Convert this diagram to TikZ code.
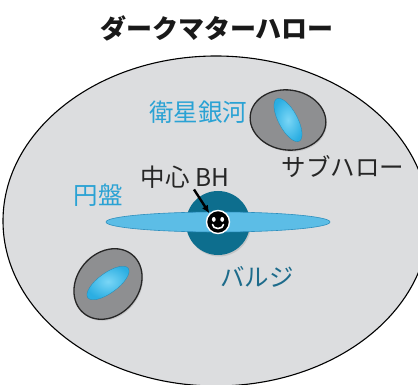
\documentclass[tikz,border=0pt]{standalone}
\usepackage{fontspec}
\newfontfamily\jp{Noto Sans CJK JP}
\usetikzlibrary{shapes.geometric,shadows,arrows.meta}
\definecolor{halogray}{HTML}{DCDDDF}
\definecolor{subgray}{HTML}{8E8F91}
\definecolor{galblue}{HTML}{2BAEE2}
\definecolor{galhi}{HTML}{7AD6F6}
\definecolor{diskblue}{HTML}{5CBDE6}
\definecolor{diskedge}{HTML}{2E8FBE}
\definecolor{bulgeteal}{HTML}{0D6E8E}
\definecolor{labcyan}{HTML}{2AA2D4}
\definecolor{labteal}{HTML}{1D6B8B}
\tikzset{
  halo/.style={ellipse, draw=black, line width=1.1pt, fill=halogray, inner sep=0pt},
  subhalo/.style={ellipse, draw=black!85, line width=1.3pt, fill=subgray, inner sep=0pt,
    drop shadow={opacity=0.25, shadow xshift=1pt, shadow yshift=-1.5pt}},
  satgal/.style={ellipse, inner sep=0pt, draw=galblue!80!black, line width=0.3pt,
    inner color=galhi, outer color=galblue},
  bulge/.style={circle, fill=bulgeteal, inner sep=0pt, minimum size=64pt,
    drop shadow={opacity=0.25, shadow xshift=1pt, shadow yshift=-1.5pt}},
  disk/.style={ellipse, fill=diskblue, draw=diskedge, line width=0.6pt, inner sep=0pt,
    minimum width=224pt, minimum height=20pt},
  bh/.style={circle, fill=black, draw=white, line width=1.4pt, inner sep=0pt, minimum size=23pt},
  lab/.style={font=\jp\fontsize{24.5}{24.5}\selectfont, inner sep=0pt},
  pointer/.style={-{Latex[length=8pt,width=7pt]}, line width=2.4pt, black}
}
\begin{document}
\begin{tikzpicture}[x=1pt,y=-1pt]
\useasboundingbox (0,0) rectangle (418,385);
\fill[white] (0,0) rectangle (418,385);

% title
\node[lab, font=\jp\bfseries\fontsize{26}{26}\selectfont, text=black!90] (title) at (217,28) {ダークマターハロー};

% the dark matter halo, running off the right and lower edges
\begin{scope}
  \clip (0,0) rectangle (418,385);
  \node[halo, minimum width=426pt, minimum height=330pt] (halo) at (216,221) {};
\end{scope}

% subhalo with a satellite galaxy, upper right
\node[subhalo, minimum width=76pt, minimum height=60pt, rotate=-8] (sub1) at (288,120) {};
\node[satgal, minimum width=48pt, minimum height=19pt, rotate=-62] (gal1) at (288,120) {};

% subhalo with a satellite galaxy, lower left
\node[subhalo, minimum width=76pt, minimum height=62pt, rotate=50] (sub2) at (108,284) {};
\node[satgal, minimum width=50pt, minimum height=20pt, rotate=36] (gal2) at (108,283) {};

% central galaxy: bulge, disk and black hole
\node[bulge] (bulge) at (218,223) {};
\node[disk] (disk) at (218,222) {};
\node[bh] (bh) at (218,222) {};
\fill[white] (bh.center) ++(-4.2,-2.6) ellipse [x radius=1.9, y radius=2.4];
\fill[white] (bh.center) ++(4.2,-2.6) ellipse [x radius=1.9, y radius=2.4];
\draw[white, line width=1.6pt, line cap=round] (bh.center) ++(-5.5,2.5) arc[start angle=180, end angle=360, x radius=5.5, y radius=-4];

% labels
\node[lab, text=labcyan] (satlab) at (198,112) {衛星銀河};
\node[lab, text=black!85] (sublab) at (343,167) {サブハロー};
\node[lab, text=labcyan] (disklab) at (98,195) {円盤};
\node[lab, text=labteal] (bulgelab) at (257,277) {バルジ};
\node[lab, text=black!85] (bhlab) at (185,177) {中心 BH};

\draw[pointer] ([xshift=9pt,yshift=-1pt]bhlab.south) -- (bh.north west);
\end{tikzpicture}
\end{document}
